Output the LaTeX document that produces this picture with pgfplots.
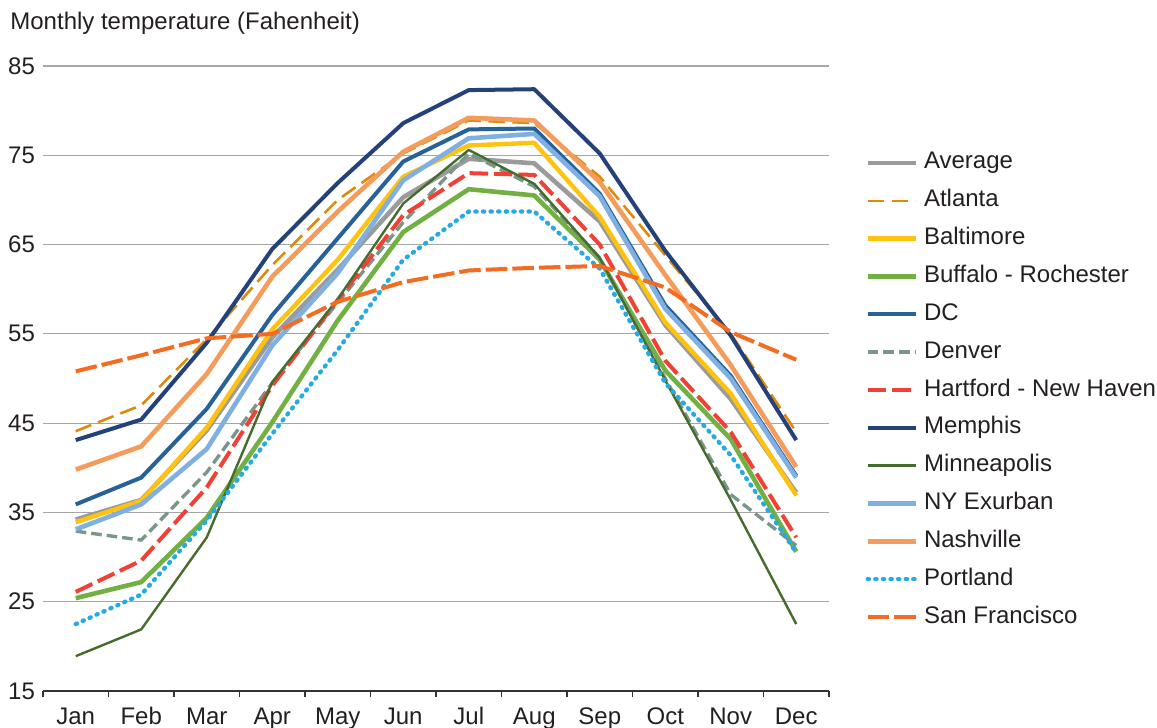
\documentclass[border=0pt]{standalone}
\usepackage{fontspec}
\setmainfont{Liberation Sans}
\usepackage{pgfplots}
\pgfplotsset{compat=1.18}
\newcommand\f{\fontsize{12}{14}\selectfont}
\definecolor{txt}{HTML}{231F20}
\definecolor{cAvg}{HTML}{9B9B9B}
\definecolor{cAtl}{HTML}{DF8A0B}
\definecolor{cBal}{HTML}{FFC20E}
\definecolor{cBuf}{HTML}{72B043}
\definecolor{cDC}{HTML}{27619A}
\definecolor{cDen}{HTML}{7A968A}
\definecolor{cHar}{HTML}{EF4136}
\definecolor{cMem}{HTML}{24417A}
\definecolor{cMin}{HTML}{456C2C}
\definecolor{cNY}{HTML}{7FB0E1}
\definecolor{cNas}{HTML}{F39C5B}
\definecolor{cPor}{HTML}{27AAE1}
\definecolor{cSF}{HTML}{F36C21}
\begin{document}
\begin{tikzpicture}
\useasboundingbox (-21.5pt,-18.5pt) rectangle (557pt,345.5pt);
\node[anchor=base west, inner sep=0pt, font=\f, text=txt] at (-16.5pt,330.85pt) {Monthly temperature (Fahenheit)};
\begin{axis}[
  scale only axis,
  width=393pt, height=312.5pt,
  xmin=0.5, xmax=12.5, ymin=15, ymax=85,
  xtick={1,...,12},
  xticklabels={Jan,Feb,Mar,Apr,May,Jun,Jul,Aug,Sep,Oct,Nov,Dec},
  minor xtick={0.5,1.5,...,12.5},
  ytick={15,25,...,85},
  axis x line*=bottom, axis y line*=left,
  y axis line style={draw=none},
  x axis line style={draw=black!80, line width=0.75pt},
  major tick length=0pt,
  minor tick length=3pt,
  tick align=outside,
  minor x tick style={draw=black!80, line width=0.75pt},
  ymajorgrids,
  major grid style={draw=black!35, line width=0.6pt},
  tick label style={font=\f, text=txt},
  /pgf/number format/assume math mode=true,
  xticklabel style={text height=9pt, yshift=-4.1pt},
  yticklabel style={xshift=-0.5pt},
  legend cell align=left,
  legend image code/.code={\draw[#1] (0pt,0pt) -- (24pt,0pt);},
  legend style={at={(1.0458,0.4816)}, anchor=west, draw=none, fill=none,
     inner sep=0pt, font=\f, text=txt, column sep=3pt, row sep=5.92pt,
     nodes={inner sep=0pt, text height=9.5pt, text depth=3.5pt}},
  line join=round,
]
\addplot[cAvg, line width=2.3pt] coordinates {(1,34.2)(2,36.4)(3,44.2)(4,54.6)(5,62.2)(6,70.3)(7,74.6)(8,74.1)(9,67.6)(10,56.0)(11,47.7)(12,37.2)};
\addlegendentry{Average}
\addplot[cAtl, line width=1.3pt, dash pattern=on 8.3pt off 3.7pt] coordinates {(1,44.1)(2,47.0)(3,54.4)(4,62.7)(5,70.0)(6,75.2)(7,78.9)(8,78.6)(9,72.6)(10,63.8)(11,55.0)(12,44.0)};
\addlegendentry{Atlanta}
\addplot[cBal, line width=2.2pt] coordinates {(1,33.9)(2,36.3)(3,44.5)(4,55.5)(5,63.3)(6,72.6)(7,76.1)(8,76.4)(9,68.1)(10,56.3)(11,48.3)(12,36.9)};
\addlegendentry{Baltimore}
\addplot[cBuf, line width=2.3pt] coordinates {(1,25.4)(2,27.2)(3,34.4)(4,45.1)(5,56.5)(6,66.4)(7,71.2)(8,70.5)(9,63.3)(10,50.9)(11,43.2)(12,30.6)};
\addlegendentry{Buffalo - Rochester}
\addplot[cDC, line width=2pt] coordinates {(1,35.9)(2,38.9)(3,46.6)(4,57.1)(5,65.7)(6,74.3)(7,77.9)(8,78.0)(9,70.7)(10,58.2)(11,50.3)(12,39.1)};
\addlegendentry{DC}
\addplot[cDen, line width=1.7pt, dash pattern=on 5.3pt off 2.5pt] coordinates {(1,32.9)(2,31.9)(3,39.5)(4,49.5)(5,58.5)(6,67.5)(7,75.2)(8,71.5)(9,63.5)(10,50.0)(11,37.0)(12,31.3)};
\addlegendentry{Denver}
\addplot[cHar, line width=2pt, dash pattern=on 9.2pt off 3pt] coordinates {(1,26.1)(2,29.6)(3,37.8)(4,49.2)(5,58.8)(6,68.3)(7,73.0)(8,72.8)(9,65.0)(10,52.0)(11,44.0)(12,32.2)};
\addlegendentry{Hartford - New Haven}
\addplot[cMem, line width=2pt] coordinates {(1,43.1)(2,45.4)(3,54.0)(4,64.5)(5,71.9)(6,78.6)(7,82.3)(8,82.4)(9,75.2)(10,64.3)(11,54.8)(12,43.1)};
\addlegendentry{Memphis}
\addplot[cMin, line width=1.2pt] coordinates {(1,18.9)(2,21.9)(3,32.2)(4,49.6)(5,58.9)(6,69.6)(7,75.6)(8,71.8)(9,63.5)(10,49.8)(11,36.4)(12,22.5)};
\addlegendentry{Minneapolis}
\addplot[cNY, line width=2.3pt] coordinates {(1,33.1)(2,35.9)(3,42.1)(4,53.7)(5,61.8)(6,72.2)(7,76.9)(8,77.4)(9,70.4)(10,57.8)(11,50.0)(12,38.9)};
\addlegendentry{NY Exurban}
\addplot[cNas, line width=2.3pt] coordinates {(1,39.8)(2,42.4)(3,50.5)(4,61.4)(5,68.7)(6,75.4)(7,79.2)(8,78.9)(9,72.0)(10,61.6)(11,51.5)(12,40.1)};
\addlegendentry{Nashville}
\addplot[cPor, line width=2.2pt, line cap=round, dash pattern=on 0.6pt off 3.2pt] coordinates {(1,22.5)(2,25.8)(3,34.1)(4,43.8)(5,53.2)(6,63.3)(7,68.7)(8,68.7)(9,62.3)(10,49.5)(11,41.4)(12,30.5)};
\addlegendentry{Portland}
\addplot[cSF, line width=2pt, dash pattern=on 10.8pt off 2.5pt] coordinates {(1,50.8)(2,52.6)(3,54.5)(4,55.0)(5,58.6)(6,60.8)(7,62.1)(8,62.4)(9,62.6)(10,60.2)(11,55.2)(12,52.1)};
\addlegendentry{San Francisco}
\end{axis}
\end{tikzpicture}
\end{document}
